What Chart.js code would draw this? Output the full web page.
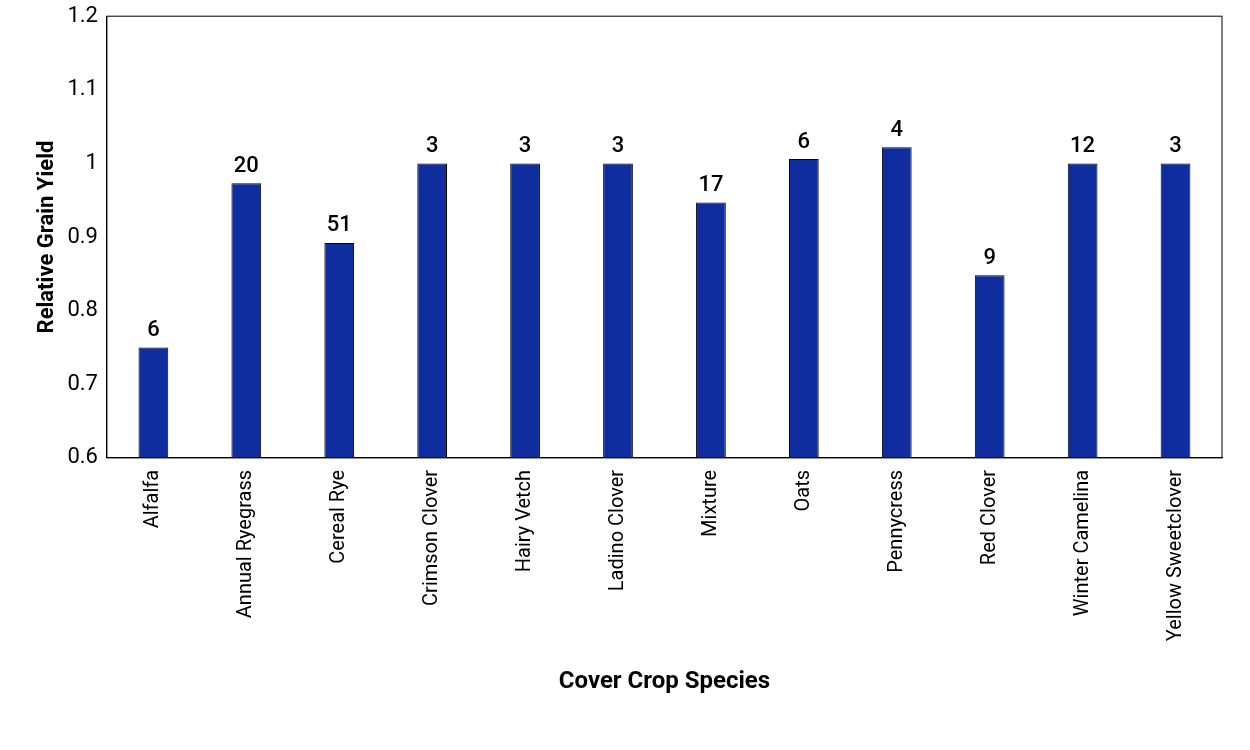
<!DOCTYPE html>
<html>
<head>
<meta charset="utf-8">
<script src="https://cdn.jsdelivr.net/npm/chart.js@4"></script>
<style>
  body { margin: 0; background: #fff; }
</style>
</head>
<body>
<canvas id="yield-canvas" width="1250" height="750"></canvas>
<script>
const species = ["Alfalfa", "Annual Ryegrass", "Cereal Rye", "Crimson Clover", "Hairy Vetch",
    "Ladino Clover", "Mixture", "Oats", "Pennycress", "Red Clover", "Winter Camelina", "Yellow Sweetclover"];
const relativeYield = [0.75, 0.973, 0.892, 1.0, 1.0, 1.0, 0.947, 1.006, 1.022, 0.848, 1.0, 1.0];
const studyCounts = [6, 20, 51, 3, 3, 3, 17, 6, 4, 9, 12, 3];

// draws the number of studies above each bar
const countLabels = {
    id: 'countLabels',
    afterDatasetsDraw(chart) {
        const ctx = chart.ctx;
        const meta = chart.getDatasetMeta(0);
        ctx.save();
        ctx.font = '500 22px Roboto';
        ctx.fillStyle = '#000';
        ctx.textAlign = 'center';
        ctx.textBaseline = 'bottom';
        meta.data.forEach((bar, i) => {
            ctx.fillText(studyCounts[i], bar.x, bar.y - 6);
        });
        ctx.restore();
    }
};

const yieldCanvas = document.querySelector("#yield-canvas");

new Chart(yieldCanvas, {
    type: 'bar',
    data: {
        labels: species,
        datasets: [{
            data: relativeYield,
            backgroundColor: '#102da0',
            borderColor: '#000',
            borderWidth: 1,
            barPercentage: 0.32,
            categoryPercentage: 1,
        }]
    },
    options: {
        responsive: false,
        animation: false,
        devicePixelRatio: 1,
        layout: { padding: { left: 30, right: 28, top: 16, bottom: 50 } },
        plugins: { legend: { display: false }, tooltip: { enabled: false } },
        scales: {
            x: {
                grid: { display: false, drawTicks: false },
                border: { color: '#000' },
                ticks: {
                    color: '#000', font: { family: 'Roboto', size: 20 },
                    maxRotation: 90, minRotation: 90, padding: 12
                },
                title: {
                    display: true, text: 'Cover Crop Species', color: '#000',
                    font: { family: 'Roboto', size: 24, weight: 'bold' }, padding: { top: 14 }
                }
            },
            y: {
                min: 0.6, max: 1.2,
                grid: { display: false, drawTicks: true, tickLength: 6, tickColor: '#000' },
                border: { color: '#000' },
                ticks: {
                    stepSize: 0.1, color: '#000', font: { family: 'Roboto', size: 22 },
                    callback: v => Math.round(v * 10) / 10
                },
                title: {
                    display: true, text: 'Relative Grain Yield', color: '#000',
                    font: { family: 'Roboto', size: 22, weight: 'bold' }
                }
            }
        }
    },
    plugins: [countLabels, {
        id: 'frame',
        afterDraw(chart) {
            const { ctx, chartArea: a } = chart;
            ctx.save();
            ctx.strokeStyle = '#000';
            ctx.lineWidth = 1;
            ctx.strokeRect(a.left, a.top, a.right - a.left, a.bottom - a.top);
            ctx.restore();
        }
    }]
});
</script>
</body>
</html>
